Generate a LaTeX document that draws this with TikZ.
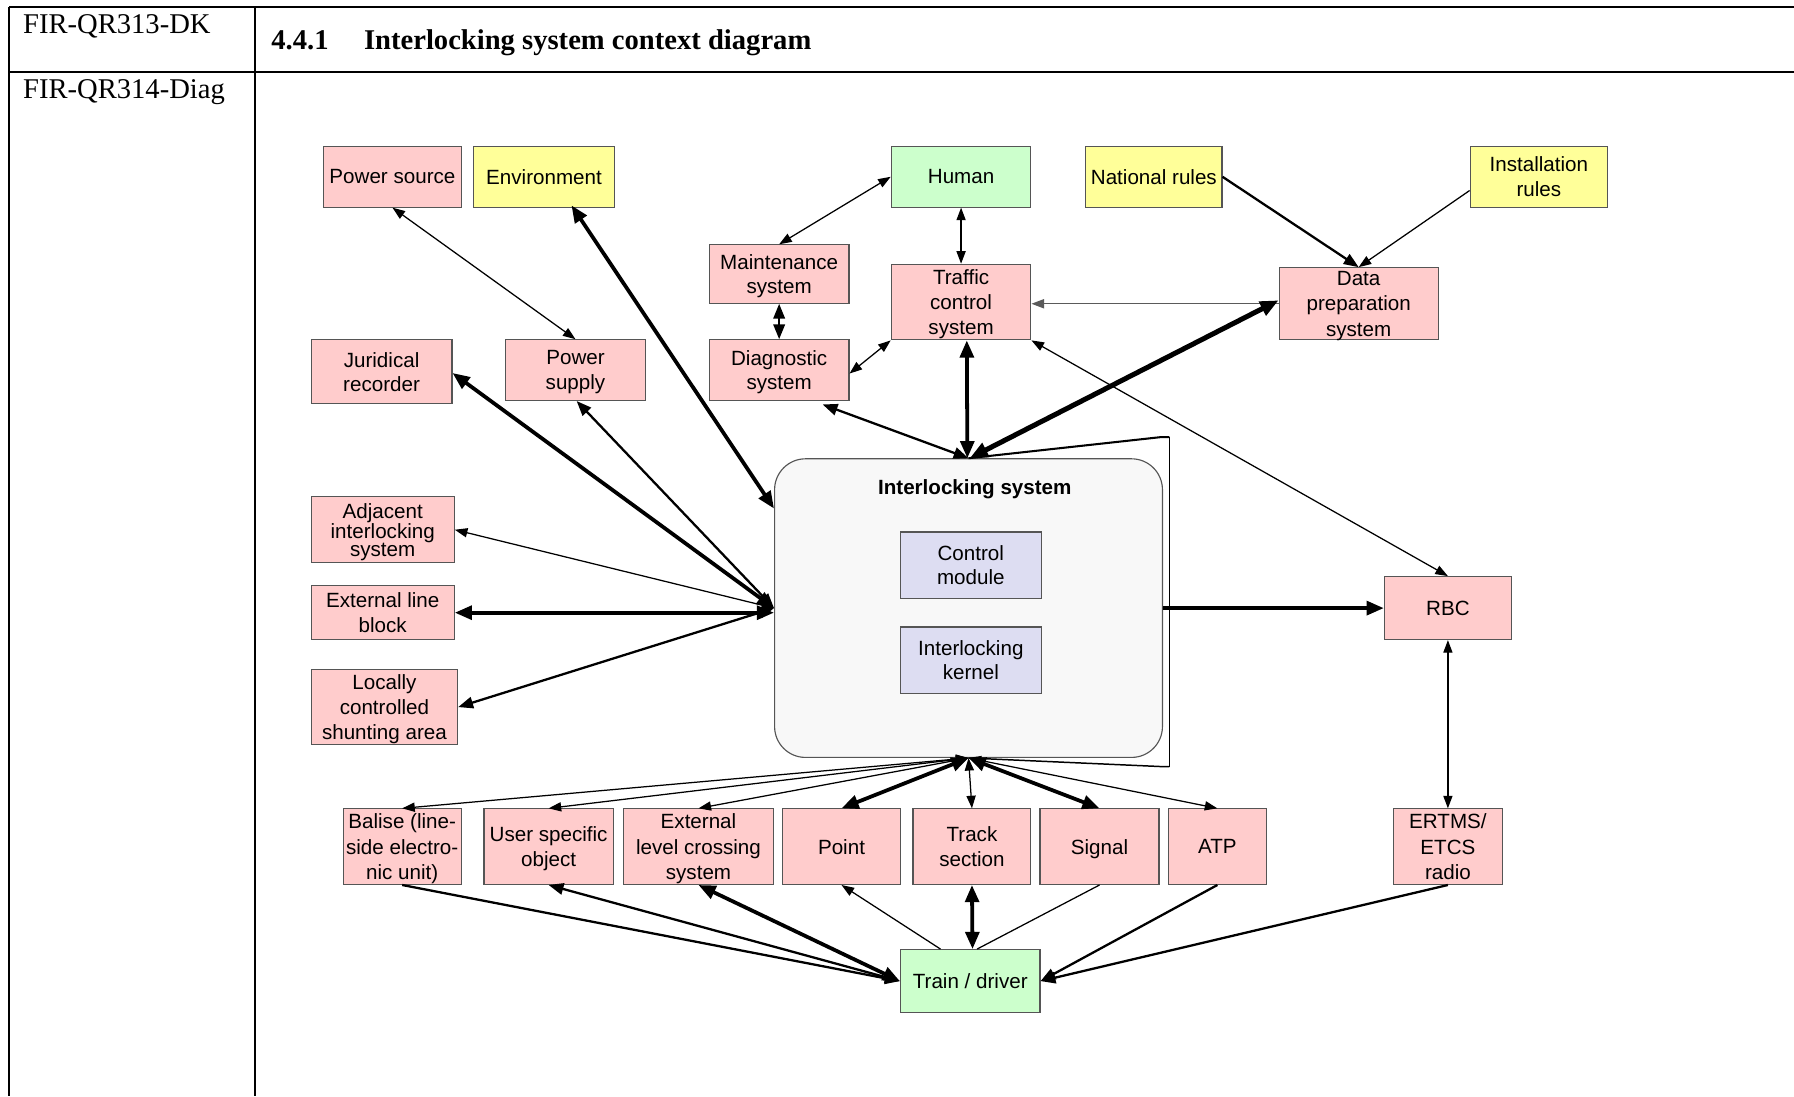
\documentclass[tikz,border=0pt]{standalone}
\usepackage{fontspec}
\setmainfont{Liberation Serif}
\newfontfamily\arialfont{Liberation Sans}
\usetikzlibrary{arrows.meta,calc}
\definecolor{pinkbox}{RGB}{255,204,204}
\definecolor{yellowbox}{RGB}{255,255,153}
\definecolor{greenbox}{RGB}{204,255,204}
\definecolor{lavbox}{RGB}{221,221,242}
\definecolor{ilsfill}{RGB}{248,248,248}
\definecolor{boxline}{RGB}{85,85,85}
\definecolor{grayln}{RGB}{90,90,90}
\newcommand\boxfont{\arialfont\fontsize{18}{21.5}\selectfont}
\newcommand\tblfont{\fontsize{25}{28}\selectfont}
\tikzset{
  box/.style={draw=boxline, line width=1pt, inner sep=0pt, align=center, font=\boxfont, text depth=0pt},
  pk/.style={box, fill=pinkbox},
  yl/.style={box, fill=yellowbox},
  gr/.style={box, fill=greenbox},
  lv/.style={box, fill=lavbox},
  tbl/.style={line width=1.8pt, black},
  thinln/.style={line width=1.1pt, >={Triangle[length=11pt,width=8pt]}},
  medln/.style={line width=2pt, >={Triangle[length=13pt,width=10pt]}},
  thickln/.style={line width=3.3pt, >={Triangle[length=15pt,width=12pt]}},
  vthickln/.style={line width=4.4pt, >={Triangle[length=16pt,width=13pt]}},
}
\begin{document}
\begin{tikzpicture}[x=1pt,y=-1pt]
\useasboundingbox (0,0) rectangle (1568,958);
% table frame
\draw[tbl] (8,6) -- (1568,6);
\draw[tbl] (8,63) -- (1568,63);
\draw[tbl] (8,6) -- (8,958);
\draw[tbl] (223,6) -- (223,958);
\node[anchor=base west, font=\tblfont, inner sep=0pt] (t1) at (20,29) {FIR-QR313-DK};
\node[anchor=base west, font=\tblfont\bfseries, inner sep=0pt] (t2) at (237,43) {4.4.1};
\node[anchor=base west, font=\tblfont\bfseries, inner sep=0pt] (t3) at (318,43) {Interlocking system context diagram};
\node[anchor=base west, font=\tblfont, inner sep=0pt] (t4) at (20,86) {FIR-QR314-Diag};

% interlocking system
\node[draw=boxline, line width=1pt, fill=ilsfill, rounded corners=27pt, minimum width=339pt, minimum height=261pt] (ils) at (846.5,531.5) {};
\node[font=\boxfont\bfseries, inner sep=0pt] (ilslbl) at (852,428) {Interlocking system};
\node[lv, minimum width=123pt, minimum height=58pt] (cm) at (848.5,494) {Control\\module};
\node[lv, minimum width=123pt, minimum height=58pt] (ik) at (848.5,577) {Interlocking\\kernel};
\coordinate (brt) at (1022,382);
\coordinate (brb) at (1022,670);
\draw[line width=1.8pt] (ils.north) -- ($(brt)+(-7,0)$) -- (brt);
\draw[line width=1pt] (brt) -- (brb);
\draw[line width=1.3pt] (ils.south) -- ($(brb)+(-7,0)$) -- (brb);

% top row
\node[pk, minimum width=120pt, minimum height=53pt] (ps) at (343,154.5) {Power source};
\node[yl, minimum width=123pt, minimum height=53pt] (env) at (475.5,154.5) {Environment};
\node[gr, minimum width=122pt, minimum height=53pt] (human) at (840,154.5) {Human};
\node[yl, minimum width=119pt, minimum height=53pt] (natl) at (1008.5,154.5) {National rules};
\node[yl, minimum width=120pt, minimum height=53pt] (inst) at (1345,154.5) {Installation\\rules};
\node[pk, minimum width=122pt, minimum height=51pt] (maint) at (681,239.5) {Maintenance\\system};
\node[pk, minimum width=122pt, minimum height=66pt] (tcs) at (840,264) {Traffic\\control\\system};
\node[pk, minimum width=139pt, minimum height=63pt, font=\arialfont\fontsize{18}{22}\selectfont] (dps) at (1187.5,265.5) {Data\\preparation\\system};
\node[pk, minimum width=123pt, minimum height=56pt] (jur) at (333.5,325) {Juridical\\recorder};
\node[pk, minimum width=122pt, minimum height=53pt] (psup) at (503,323.5) {Power\\supply};
\node[pk, minimum width=122pt, minimum height=53pt] (diag) at (681,323.5) {Diagnostic\\system};
\node[pk, minimum width=125pt, minimum height=58pt, font=\arialfont\fontsize{18}{15.5}\selectfont] (adj) at (334.5,463) {Adjacent\\interlocking\\system};
\node[pk, minimum width=125pt, minimum height=47pt] (elb) at (334.5,535.5) {External line\\block};
\node[pk, minimum width=128pt, minimum height=66pt, font=\arialfont\fontsize{18}{22}\selectfont] (lcsa) at (336,618) {Locally\\controlled\\shunting area};
\node[pk, minimum width=111pt, minimum height=55pt] (rbc) at (1265.5,531.5) {RBC};

% bottom row
\node[pk, minimum width=103pt, minimum height=66pt, font=\arialfont\fontsize{18}{22}\selectfont] (bal) at (351.5,740) {Balise (line-\\side electro-\\nic unit)};
\node[pk, minimum width=113pt, minimum height=66pt, font=\arialfont\fontsize{18}{22}\selectfont] (uso) at (479.5,740) {User specific\\object};
\node[pk, minimum width=131pt, minimum height=66pt, font=\arialfont\fontsize{18}{22}\selectfont] (elc) at (610.5,740) {External\\level crossing\\system};
\node[pk, minimum width=103pt, minimum height=66pt] (pt) at (735.5,740) {Point};
\node[pk, minimum width=103pt, minimum height=66pt, font=\arialfont\fontsize{18}{22}\selectfont] (ts) at (849.5,740) {Track\\section};
\node[pk, minimum width=104pt, minimum height=66pt] (sig) at (961,740) {Signal};
\node[pk, minimum width=86pt, minimum height=66pt] (atp) at (1064,740) {ATP};
\node[pk, minimum width=95pt, minimum height=66pt, font=\arialfont\fontsize{18}{22}\selectfont] (ertms) at (1265.5,740) {ERTMS/\\ETCS\\radio};
\node[gr, minimum width=122pt, minimum height=55pt] (td) at (848,857.5) {Train / driver};

% connectors - top
\draw[thinln,<->] (ps.south) -- (psup.north);
\draw[thickln,<->] ($(env.south)+(24,-2)$) -- ($(ils.west)+(0,-87)$);
\draw[thinln,<->] (human.west) -- (maint.north);
\draw[thinln,<->] (human.south) -- (tcs.north);
\draw[medln,<->] (maint.south) -- (diag.north);
\draw[thinln,<->] ($(diag.east)+(0,3)$) -- (tcs.south west);
\draw[thinln,->,grayln] (dps.west) -- (tcs.east |- dps.west);
\draw[medln,->] (natl.east) -- (dps.north);
\draw[thinln,->] ($(inst.west)+(0,12)$) -- (dps.north);
\draw[thickln,<->] ($(tcs.south)+(5,0)$) -- ($(ils.north)+(-1,0)$);
\draw[vthickln,<->] ($(dps.west)+(0,-3)$) -- ($(ils.north)+(1,0)$);
\draw[medln,<->] ($(diag.south)+(38,3)$) -- (ils.north);
\draw[thinln,<->] (tcs.south east) -- (rbc.north);
% connectors - left
\draw[thickln,<->] ($(jur.east)+(0,1)$) -- (ils.west);
\draw[medln,<->] ($(psup.south)+(1,0)$) -- (ils.west);
\draw[thinln,<->] (adj.east) -- (ils.west);
\draw[thickln,<->] (elb.east) -- (ils.west |- elb.east);
\draw[medln,<->] (lcsa.east) -- (ils.west);
% right
\draw[thickln,->] (ils.east) -- (rbc.west);
\draw[thinln,<->] (rbc.south) -- (ertms.north);
% bottom from interlocking
\draw[thinln,<->] (ils.south) -- (bal.north);
\draw[thinln,<->] (ils.south) -- (uso.north);
\draw[thinln,<->] (ils.south) -- (elc.north);
\draw[thickln,<->] (ils.south) -- (pt.north);
\draw[thinln,<->] (ils.south) -- (ts.north);
\draw[thickln,<->] (ils.south) -- (sig.north);
\draw[thinln,<->] (ils.south) -- (atp.north);
% train / driver
\draw[medln,->] (bal.south) -- (td.west);
\draw[medln,<->] (td.west) -- (uso.south);
\draw[thickln,<->] (td.west) -- (elc.south);
\draw[thinln,->] ($(td.north)+(-26,0)$) -- (pt.south);
\draw[thickln,<->] ($(td.north)+(2,0)$) -- (ts.south);
\draw[thinln] (sig.south) -- ($(td.north)+(6,0)$);
\draw[medln,->] (atp.south) -- (td.east);
\draw[medln,->] (ertms.south) -- (td.east);
\end{tikzpicture}
\end{document}
